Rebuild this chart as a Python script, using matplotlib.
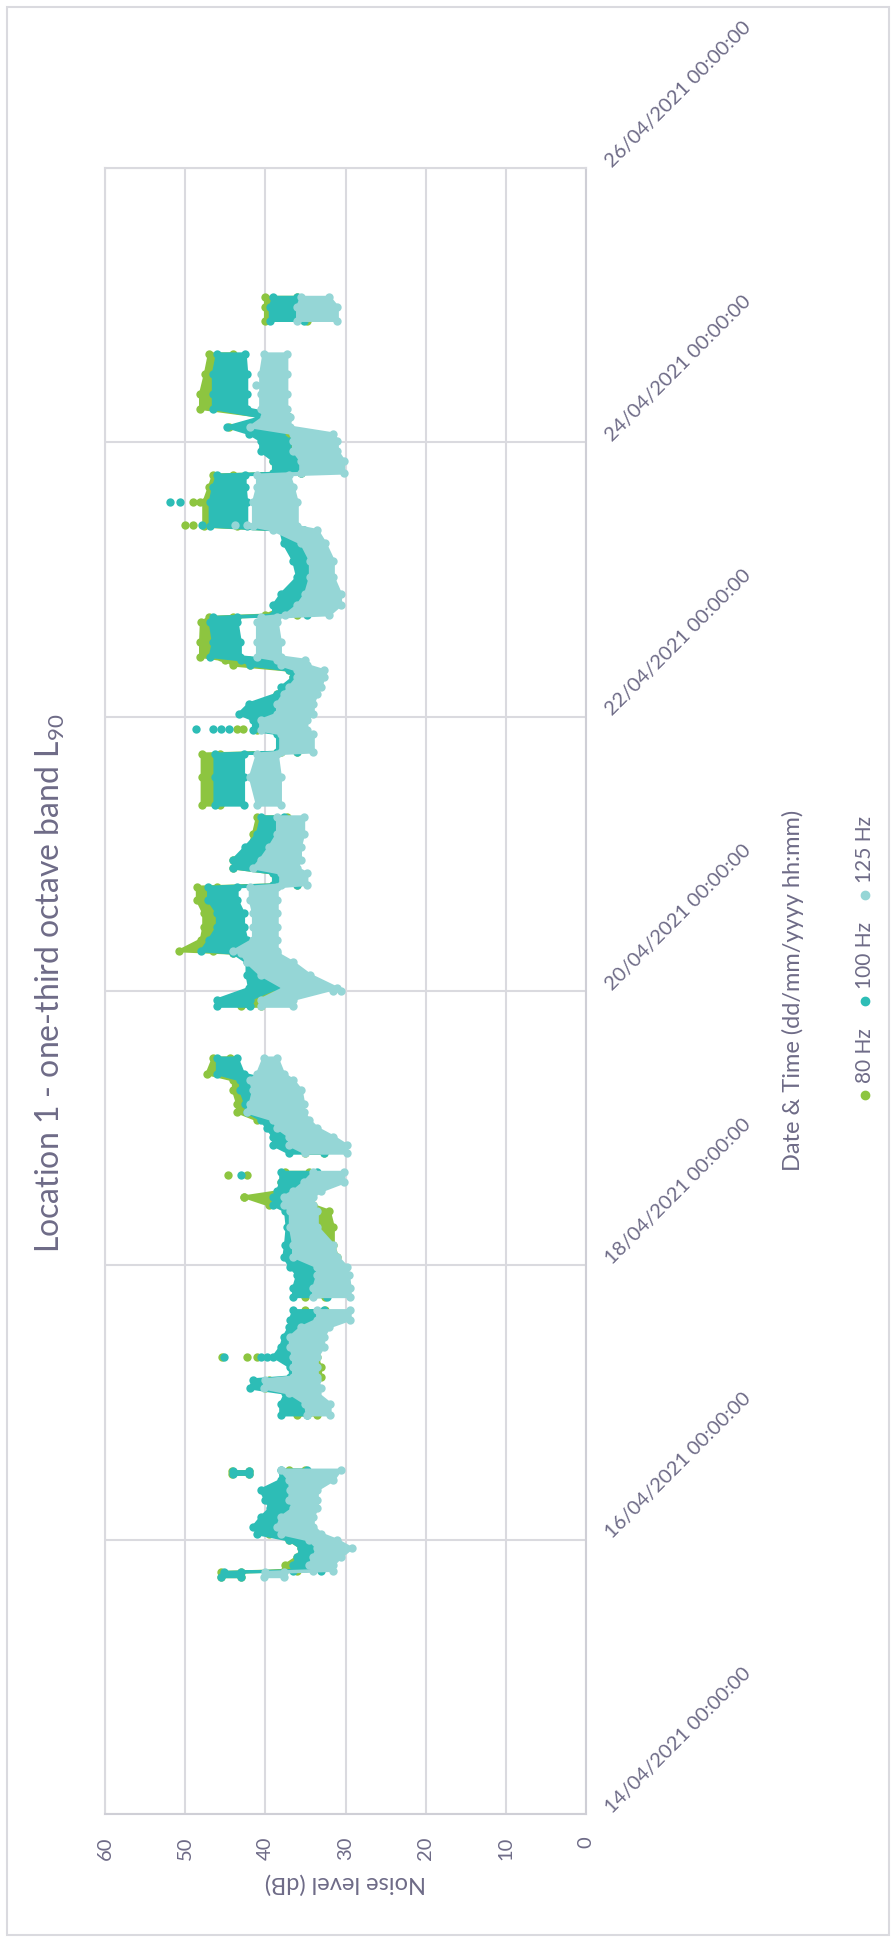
import numpy as np
import pandas as pd
import matplotlib
matplotlib.use("Agg")
import matplotlib.pyplot as plt
from matplotlib.lines import Line2D
from matplotlib.patches import Rectangle

# --- data (hours since 14/04/2021 00:00, noise level band lo/hi in dB) ---
NAN = np.nan
HOURS = [41.5, 42.3, 42.6, 43.6, 45.0, 46.5, 47.9, 49.0, 50.3, 52.0, 53.5, 55.0, 56.7, 58.4, 60.2, NAN,
         59.5, 60.1, NAN,
         69.8, 71.8, 73.6, 74.5, 76.0, 76.5, 78.2, 80.0, 81.7, 83.5, 85.2, 86.5, 88.1, NAN,
         90.5, 92.0, 94.3, 95.7, 97.5, 99.6, 102.7, 105.5, 106.5, 108.0, 109.0, 110.5, 112.3, NAN,
         115.6, 117.0, 118.5, 120.0, 121.4, 122.8, 124.3, 126.6, 128.4, 129.5, 132.3, NAN,
         141.3, 142.5, 144.5, 146.8, 149.0, 150.6, 151.0, 153.0, 155.2, 157.6, 159.9, 162.2,
         162.6, 164.6, 165.5, 167.0, 169.2, 171.5, 174.5, NAN,
         176.5, 181.4, 185.5, 185.8, 189.0, 189.6, 191.4, 192.5, 194.3, 196.0, 197.2, 198.9,
         200.1, 201.0, 201.9, 202.5, 205.0, 208.5, 209.4, 209.8, 211.5, 213.5, 216.4, 219.3,
         222.3, 224.6, 225.3, 229.5, 232.2, 234.3, 234.6, 236.8, 238.5, 240.3, 241.5, 242.7,
         244.4, 245.9, 248.5, 252.0, 255.5, NAN,
         261.3, 263.7, 265.4]

HZ80_LO = [43.0, 43.0, 36.0, 35.0, 34.0, 33.5, 35.0, 36.5, 37.5, 37.0, 36.0, 36.5, 36.5, 35.5, 35.0, NAN,
           42.0, 42.0, NAN,
           33.5, 33.5, 34.5, 36.5, 36.5, 33.1, 33.1, 33.5, 33.5, 34.0, 33.0, 32.5, 32.5, NAN,
           32.5, 32.5, 32.0, 32.0, 31.0, 31.5, 31.5, 32.0, 34.0, 35.0, 34.5, 34.5, 34.5, NAN,
           32.7, 32.7, 34.0, 35.0, 37.0, 40.0, 40.0, 41.0, 41.0, 45.0, 44.4, NAN,
           40.5, 40.5, 37.0, 38.5, 38.5, 41.0, 46.5, 45.5, 45.5, 45.6, 46.0, 46.0,
           36.0, 36.0, 40.2, 40.5, 38.5, 37.3, 37.3, NAN,
           45.6, 45.6, 45.6, 36.0, 36.0, 37.5, 38.5, 38.5, 37.0, 36.0, 35.5, 34.8,
           35.0, 41.9, 42.0, 45.5, 45.5, 46.0, 44.0, 36.0, 35.0, 34.5, 33.5, 33.5,
           35.0, 35.5, 43.5, 44.0, 44.0, 44.0, 35.6, 35.6, 36.5, 36.5, 37.0, 41.9,
           37.0, 44.0, 44.0, 44.0, 44.0, NAN,
           34.8, 35.0, 36.0]
HZ80_HI = [45.5, 45.5, 37.7, 37.5, 36.0, 35.5, 37.0, 39.5, 40.0, 39.5, 38.5, 38.5, 39.0, 37.5, 37.0, NAN,
           44.2, 44.2, NAN,
           36.0, 36.0, 36.5, 40.0, 39.5, 34.8, 34.8, 37.0, 37.5, 37.0, 36.0, 35.0, 35.0, NAN,
           35.0, 35.0, 34.5, 35.0, 34.4, 34.0, 34.0, 34.5, 39.5, 42.7, 38.0, 38.0, 37.5, NAN,
           35.0, 34.5, 37.0, 39.0, 41.0, 43.5, 43.5, 44.0, 44.0, 47.3, 46.5, NAN,
           43.0, 43.0, 40.0, 41.0, 41.0, 44.0, 50.8, 48.0, 47.7, 47.7, 48.5, 48.5,
           39.0, 39.0, 44.0, 44.0, 42.0, 41.5, 41.0, NAN,
           47.9, 47.9, 47.9, 38.0, 38.0, 41.0, 41.0, 40.0, 39.0, 38.5, 37.5, 36.5,
           37.0, 44.0, 45.0, 48.1, 48.1, 48.0, 47.0, 40.0, 37.0, 36.5, 35.5, 36.0,
           37.0, 37.5, 47.7, 47.7, 47.0, 46.5, 39.0, 39.0, 38.5, 38.5, 39.0, 44.5,
           40.0, 48.1, 48.1, 47.5, 47.0, NAN,
           40.0, 40.0, 40.0]

HZ100_LO = [43.0, 43.0, 33.0, 33.0, 32.5, 32.3, 33.5, 36.5, 37.7, 37.0, 35.6, 36.0, 35.2, 34.8, 34.8, NAN,
            42.0, 42.0, NAN,
            34.8, 34.8, 35.5, 36.9, 37.0, 35.2, 35.2, 36.0, 34.8, 34.8, 34.5, 32.7, 32.7, NAN,
            32.3, 32.3, 32.3, 31.0, 34.0, 34.5, 35.2, 35.0, 34.4, 34.4, 34.0, 33.5, 33.5, NAN,
            32.7, 32.7, 34.0, 36.9, 37.5, 37.7, 38.0, 39.0, 39.5, 42.7, 43.5, NAN,
            41.9, 41.9, 38.5, 37.7, 38.5, 40.0, 42.3, 42.3, 42.7, 42.7, 43.5, 43.5,
            36.0, 36.0, 40.2, 39.4, 39.0, 37.7, 37.7, NAN,
            42.7, 42.7, 42.7, 36.0, 36.0, 37.7, 37.7, 39.0, 38.5, 36.0, 35.5, 34.8,
            34.8, 37.7, 38.5, 43.1, 43.1, 43.5, 43.5, 34.8, 34.8, 34.0, 33.5, 33.5,
            35.2, 35.2, 42.3, 42.3, 42.5, 42.5, 35.6, 35.6, 36.9, 36.9, 38.0, 41.9,
            37.0, 42.3, 42.3, 42.3, 42.5, NAN,
            35.2, 35.2, 36.0]
HZ100_HI = [45.5, 45.2, 36.5, 36.5, 36.0, 35.5, 37.0, 41.0, 41.5, 40.5, 39.4, 40.0, 40.6, 38.1, 38.1, NAN,
            44.0, 44.0, NAN,
            38.1, 38.1, 37.5, 41.9, 41.5, 36.9, 36.9, 39.0, 38.1, 37.7, 37.0, 36.9, 36.5, NAN,
            36.5, 36.5, 36.0, 36.9, 37.7, 37.5, 37.3, 37.5, 39.0, 39.0, 38.5, 38.1, 38.1, NAN,
            37.0, 39.0, 39.0, 39.8, 40.5, 42.3, 42.5, 43.1, 43.1, 46.0, 46.0, NAN,
            46.0, 46.0, 42.0, 42.3, 42.3, 44.0, 48.0, 47.0, 46.0, 46.0, 47.1, 47.1,
            39.0, 39.0, 44.0, 44.0, 42.5, 41.0, 40.5, NAN,
            46.3, 46.3, 46.3, 38.5, 38.5, 41.5, 41.5, 43.3, 42.0, 38.5, 38.0, 36.5,
            37.0, 41.9, 43.0, 46.9, 46.5, 46.9, 46.5, 39.0, 39.0, 38.0, 36.0, 36.5,
            37.7, 38.1, 46.9, 46.9, 46.5, 46.0, 39.0, 39.0, 40.6, 40.6, 42.0, 44.8,
            40.5, 46.5, 46.5, 46.5, 46.0, NAN,
            39.4, 39.4, 39.0]

HZ125_LO = [37.7, 37.7, 31.5, 31.5, 30.5, 29.2, 31.0, 33.0, 34.0, 34.0, 33.5, 33.5, 33.5, 31.5, 30.6, NAN,
            NAN, NAN, NAN,
            31.9, 31.9, 33.5, 33.1, 33.5, 33.5, 33.5, 33.5, 32.7, 32.7, 32.0, 29.4, 29.4, NAN,
            29.4, 29.4, 29.6, 29.8, 31.0, 31.5, 33.5, 33.5, 34.0, 34.0, 33.0, 30.2, 30.2, NAN,
            29.8, 29.8, 31.5, 33.5, 34.5, 35.2, 35.2, 35.5, 36.5, 37.7, 38.5, NAN,
            36.5, 36.5, 31.0, 34.4, 36.5, 38.5, 38.5, 38.5, 38.5, 38.5, 38.5, 38.5,
            34.8, 34.8, 36.0, 35.6, 35.6, 35.2, 35.2, NAN,
            38.1, 38.1, 38.5, 34.0, 34.0, 34.8, 34.8, 34.0, 34.0, 33.5, 33.0, 32.7,
            32.7, 34.8, 35.0, 38.1, 38.1, 38.5, 38.5, 32.0, 30.6, 30.6, 31.5, 31.5,
            32.5, 33.5, 36.0, 36.0, 36.5, 37.0, 30.2, 30.2, 31.0, 31.0, 31.5, 36.9,
            36.9, 37.3, 37.3, 37.3, 37.3, NAN,
            31.0, 31.0, 32.0]
HZ125_HI = [40.2, 40.0, 34.0, 34.5, 34.0, 33.5, 34.5, 38.0, 38.5, 38.0, 36.5, 37.0, 36.9, 37.0, 38.1, NAN,
            NAN, NAN, NAN,
            34.8, 35.0, 37.0, 40.2, 40.0, 36.5, 36.5, 36.5, 36.9, 36.9, 35.5, 33.5, 33.5, NAN,
            34.0, 34.0, 33.5, 33.5, 36.5, 36.5, 36.9, 36.9, 37.7, 37.7, 36.5, 35.2, 34.0, NAN,
            35.0, 37.0, 37.0, 38.5, 39.0, 42.3, 41.9, 41.5, 41.9, 41.0, 40.2, NAN,
            40.6, 40.6, 37.7, 40.6, 42.3, 43.0, 44.0, 41.5, 41.5, 41.5, 41.9, 41.9,
            38.1, 38.1, 41.5, 40.6, 39.5, 38.5, 38.5, NAN,
            41.0, 41.9, 41.0, 38.1, 38.1, 40.6, 40.6, 38.5, 38.5, 37.7, 37.0, 36.0,
            36.0, 38.1, 38.5, 41.0, 41.0, 41.0, 40.5, 37.5, 36.0, 35.0, 34.4, 34.4,
            35.5, 39.0, 41.5, 41.5, 41.0, 41.0, 35.6, 35.6, 36.5, 36.5, 36.5, 41.9,
            40.2, 40.6, 40.6, 40.6, 40.2, NAN,
            36.0, 36.0, 35.5]

# isolated readings away from the main bands
HZ80_ISO_HOURS = [80.0, 80.0, 80.0, 108.0, 111.8, 111.8, 189.8, 189.8, 225.6, 225.6, 229.5, 229.5]
HZ80_ISO_DB = [45.4, 42.3, 41.0, 42.7, 44.6, 42.3, 43.5, 42.8, 50.0, 49.0, 49.0, 48.1]
HZ100_ISO_HOURS = [80.0, 80.0, 80.0, 111.8, 189.8, 189.8, 189.8, 189.8, 225.6, 229.5, 229.5]
HZ100_ISO_DB = [45.2, 40.6, 39.8, 43.0, 48.7, 46.5, 45.5, 44.5, 47.9, 51.9, 50.6]
HZ125_ISO_HOURS = [144.0, 144.0, 225.6, 225.6, 250.0]
HZ125_ISO_DB = [30.6, 31.5, 43.8, 42.3, 41.2]

SERIES = ['80 Hz', '100 Hz', '125 Hz']
DATE_LABELS = ['14/04/2021 00:00:00', '16/04/2021 00:00:00', '18/04/2021 00:00:00',
               '20/04/2021 00:00:00', '22/04/2021 00:00:00', '24/04/2021 00:00:00',
               '26/04/2021 00:00:00']
NOISE_TICKS = [0, 10, 20, 30, 40, 50, 60]

# --- style ---
plt.rcParams['font.family'] = ['Lato', 'DejaVu Sans']
plt.rcParams['mathtext.fontset'] = 'custom'
plt.rcParams['mathtext.rm'] = 'Lato'
plt.rcParams['mathtext.default'] = 'regular'

TEXT = '#6E6B87'
GRID = '#DADADF'
COLORS = ['#8DC540', '#2DBDB6', '#95D6D6']

W, H = 896, 1941


def fx(x):
    return x / W


def fy(y):
    return 1 - y / H


fig = plt.figure(figsize=(W / 100, H / 100), dpi=100)
fig.patch.set_facecolor('white')
fig.add_artist(Rectangle((fx(7), fy(1935)), fx(882), (1928) / H, transform=fig.transFigure,
                         facecolor='none', edgecolor=GRID, lw=1.5))

# chart is drawn turned a quarter turn: noise level runs right-to-left, dates run upward
ax = fig.add_axes([fx(105), fy(1814), fx(481), (1814 - 168) / H])

start = pd.Timestamp('2021-04-14')
date_ticks = (pd.to_datetime(DATE_LABELS, format='%d/%m/%Y %H:%M:%S') - start) / pd.Timedelta(days=1)
days = np.array(HOURS) / 24.0

bands = [(HZ80_LO, HZ80_HI), (HZ100_LO, HZ100_HI), (HZ125_LO, HZ125_HI)]
isos = [(HZ80_ISO_HOURS, HZ80_ISO_DB), (HZ100_ISO_HOURS, HZ100_ISO_DB), (HZ125_ISO_HOURS, HZ125_ISO_DB)]
for i, ((lo, hi), (ih, iv), c) in enumerate(zip(bands, isos, COLORS)):
    lo = np.array(lo)
    hi = np.array(hi)
    z = 3 + i
    ax.fill_betweenx(days, lo, hi, color=c, ec=c, lw=2, zorder=z)
    ax.scatter(lo, days, s=36, color=c, lw=0, zorder=z)
    ax.scatter(hi, days, s=36, color=c, lw=0, zorder=z)
    ax.scatter(iv, np.array(ih) / 24.0, s=36, color=c, lw=0, zorder=z)

ax.set_xlim(60, 0)
ax.set_ylim(date_ticks[0], date_ticks[-1])
ax.set_xticks(NOISE_TICKS)
ax.set_xticklabels([str(v) for v in NOISE_TICKS], rotation=90, fontsize=14.5, color=TEXT)
ax.set_yticks(date_ticks)
ax.yaxis.tick_right()
ax.set_yticklabels(DATE_LABELS, rotation=45, rotation_mode='anchor', ha='left', va='baseline',
                   fontsize=14.5, color=TEXT)
ax.tick_params(axis='x', length=0, pad=16)
ax.tick_params(axis='y', length=0, pad=19)
ax.grid(True, color=GRID, lw=1.5, zorder=0)
ax.set_axisbelow(True)
for side in ['left', 'top', 'bottom', 'right']:
    ax.spines[side].set_color(GRID)
    ax.spines[side].set_linewidth(1.5)
ax.spines['bottom'].set_color('#CFCFD6')
ax.spines['right'].set_color('#CFCFD6')

# texts
fig.text(fx(50), fy(983), r'Location 1 - one-third octave band L$_{90}$', rotation=90,
         ha='center', va='center', fontsize=23, color=TEXT)
fig.text(fx(345), fy(1883), 'Noise level (dB)', rotation=180, ha='center', va='center',
         fontsize=17, color=TEXT)
fig.text(fx(793), fy(990), 'Date & Time (dd/mm/yyyy hh:mm)', rotation=90, ha='center',
         va='center', fontsize=17, color=TEXT)

# legend, stacked upward
for name, c, my in zip(SERIES, COLORS, [1095, 1001, 895]):
    fig.add_artist(Line2D([fx(865)], [fy(my)], marker='o', markersize=6, color=c, lw=0,
                          transform=fig.transFigure))
    fig.text(fx(865), fy(my - 12), name, rotation=90, ha='center', va='bottom',
             fontsize=15, color=TEXT)

fig.savefig('out.png', dpi=100, facecolor='white')
